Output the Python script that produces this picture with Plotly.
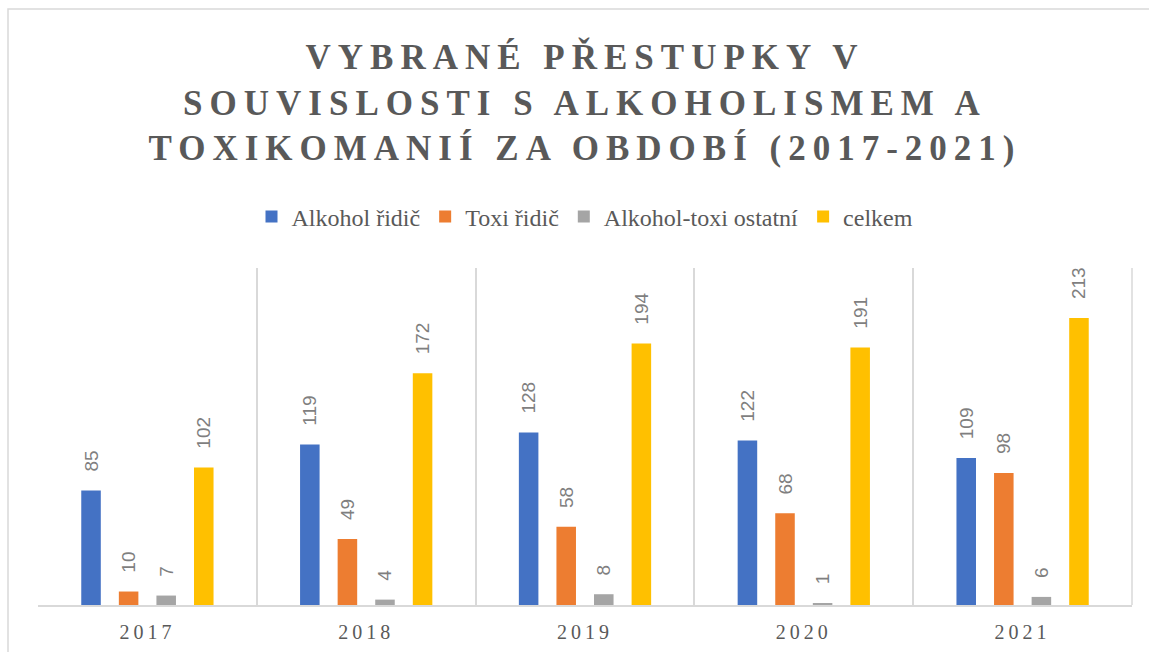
import plotly.graph_objects as go

years = ["2017", "2018", "2019", "2020", "2021"]
alkohol_ridic = [85, 119, 128, 122, 109]
toxi_ridic = [10, 49, 58, 68, 98]
alkohol_toxi_ostatni = [7, 4, 8, 1, 6]
celkem = [102, 172, 194, 191, 213]

series_names = ["Alkohol řidič", "Toxi řidič", "Alkohol-toxi ostatní", "celkem"]
series_values = [alkohol_ridic, toxi_ridic, alkohol_toxi_ostatni, celkem]
colors = ["#4472C4", "#ED7D31", "#A5A5A5", "#FFC000"]

title_text = "VYBRANÉ PŘESTUPKY V<br>SOUVISLOSTI S ALKOHOLISMEM A<br>TOXIKOMANIÍ ZA OBDOBÍ (2017-2021)"

W, H = 1149, 652
ml, mr, mt, mb = 38, 17, 268, 47
pw, ph = W - ml - mr, H - mt - mb

fig = go.Figure()
pad = "\u00a0\u00a0\u00a0"
for name, vals, col in zip(series_names, series_values, colors):
    fig.add_trace(go.Bar(
        name=name, x=years, y=vals,
        marker=dict(color=col, line=dict(width=0)),
        text=[pad + str(v) for v in vals],
        textposition="outside", textangle=-90,
        textfont=dict(family="Liberation Sans", size=19, color="#7F7F7F"),
        constraintext="none", cliponaxis=False,
        hoverinfo="x+y+name",
    ))

fig.update_layout(
    width=W, height=H,
    margin=dict(l=ml, r=mr, t=mt, b=mb, autoexpand=False),
    paper_bgcolor="white", plot_bgcolor="white",
    barmode="group", bargap=0.313, bargroupgap=0.48,
    title=dict(text=title_text, x=(ml + pw / 2) / W, xanchor="center",
               y=1 - 69 / H, yanchor="top", yref="container",
               font=dict(family="Liberation Serif", size=35, color="#595959", weight="bold")),
    legend=dict(orientation="h", x=0.5, xanchor="center", y=(H - mb - 217) / ph,
                yanchor="middle", font=dict(family="Liberation Serif", size=24, color="#595959"),
                bgcolor="rgba(0,0,0,0)", itemclick=False),
    showlegend=True,
    xaxis=dict(type="category", tickson="boundaries", showgrid=True, gridcolor="#D9D9D9", gridwidth=1.5,
               showline=True, linecolor="#D9D9D9", linewidth=1.5, ticks="", ticklabelstandoff=8,
               tickfont=dict(family="Liberation Serif", size=20, color="#595959")),
    yaxis=dict(range=[0, 250], visible=False, showgrid=False, zeroline=False),
    shapes=[dict(type="rect", xref="paper", yref="paper",
                 x0=(8 - ml) / pw, x1=(1200 - ml) / pw,
                 y0=(H - mb - 700) / ph, y1=(H - mb - 9) / ph,
                 line=dict(color="#D9D9D9", width=1.5), fillcolor="rgba(0,0,0,0)", layer="below"),
            dict(type="line", xref="paper", yref="paper", x0=1, x1=1, y0=0, y1=1,
                 line=dict(color="#D9D9D9", width=1.5))],
)

post = """
document.body.style.margin = '0';
document.body.style.padding = '0';
var gd = document.getElementById('{plot_id}');
function fixSpacing(){
  document.querySelectorAll('.gtitle').forEach(function(e){ e.style.letterSpacing = '7px'; });
  document.querySelectorAll('.xtick text').forEach(function(e){ e.style.letterSpacing = '4px'; });
}
fixSpacing();
if (gd && gd.on) { gd.on('plotly_afterplot', fixSpacing); }
"""

fig.write_html("out.html", post_script=post, config={"displayModeBar": False})
